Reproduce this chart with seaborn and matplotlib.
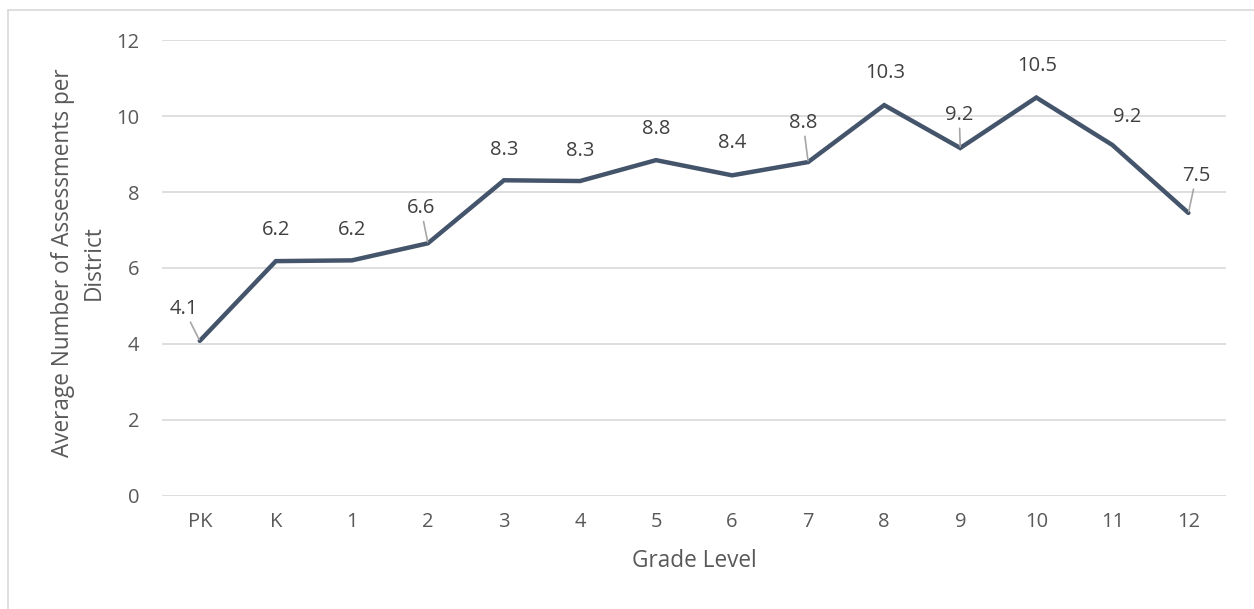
import matplotlib
matplotlib.use("Agg")
import matplotlib.pyplot as plt
import seaborn as sns
import pandas as pd

# Dados do gráfico
graus = ["PK", "K", "1", "2", "3", "4", "5", "6", "7", "8", "9", "10", "11", "12"]
medias = [4.08, 6.18, 6.20, 6.65, 8.31, 8.29, 8.84, 8.44, 8.79, 10.29, 9.16, 10.49, 9.24, 7.45]
rotulos = ["4.1", "6.2", "6.2", "6.6", "8.3", "8.3", "8.8", "8.4", "8.8", "10.3", "9.2", "10.5", "9.2", "7.5"]

# Deslocamento dos rótulos (em pixels) e se há linha de chamada
desloc = [(-16, 32), (0, 31), (0, 30), (-7, 35), (0, 30), (0, 30), (0, 31), (0, 32),
          (-5, 39), (1, 32), (-1, 33), (1, 32), (15, 28), (8, 37)]
chamada = [True, False, False, True, False, False, False, False, True, False, True, False, False, True]

sns.set_theme(style="white")
plt.rcParams["font.family"] = ["Open Sans", "DejaVu Sans"]

cor_texto = "#595959"
cor_linha = "#44546a"
tam = 14.5
tam_titulo = 16.3

fig = plt.figure(figsize=(12.54, 6.09), dpi=100)
ax = fig.add_axes([0.129, 0.186, 0.849, 0.748])

df = pd.DataFrame({"pos": range(len(graus)), "media": medias})
sns.lineplot(data=df, x="pos", y="media", ax=ax, color=cor_linha, linewidth=3.2,
             solid_joinstyle="miter", sort=False, zorder=3)

# Rótulos de dados
for i, (v, r) in enumerate(zip(medias, rotulos)):
    dx, dy = desloc[i]
    props = None
    if chamada[i]:
        props = dict(arrowstyle="-", color="#a6a6a6", lw=1.2, shrinkA=0, shrinkB=1)
    ax.annotate(r, xy=(i, v), xytext=(dx, dy), textcoords="offset pixels",
                ha="center", va="center", fontsize=tam, color="#404040",
                arrowprops=props, zorder=4)

ax.set_xlim(-0.5, len(graus) - 0.5)
ax.set_ylim(0, 12)
ax.set_yticks(range(0, 13, 2))
ax.set_xticks(range(len(graus)))
ax.set_xticklabels(graus)
ax.tick_params(axis="both", labelsize=tam, colors=cor_texto, length=0)
ax.tick_params(axis="x", pad=12)
ax.tick_params(axis="y", pad=16)

ax.grid(axis="y", color="#d9d9d9", linewidth=1.2)
ax.set_axisbelow(True)
for s in ax.spines.values():
    s.set_visible(False)

ax.set_xlabel("Grade Level", fontsize=tam_titulo, color=cor_texto)
ax.xaxis.set_label_coords(0.5, -0.118)
ax.set_ylabel("Average Number of Assessments per\nDistrict", fontsize=tam_titulo,
              color=cor_texto, linespacing=1.35)
ax.yaxis.set_label_coords(-0.053, 0.511)

# Borda do gráfico (só topo e esquerda aparecem)
fig.add_artist(plt.Line2D([8 / 1254, 1.0], [1 - 10 / 609, 1 - 10 / 609],
                          transform=fig.transFigure, color="#d9d9d9", lw=1.2))
fig.add_artist(plt.Line2D([8 / 1254, 8 / 1254], [0.0, 1 - 10 / 609],
                          transform=fig.transFigure, color="#d9d9d9", lw=1.2))

plt.savefig("out.png", dpi=100)
plt.close()
